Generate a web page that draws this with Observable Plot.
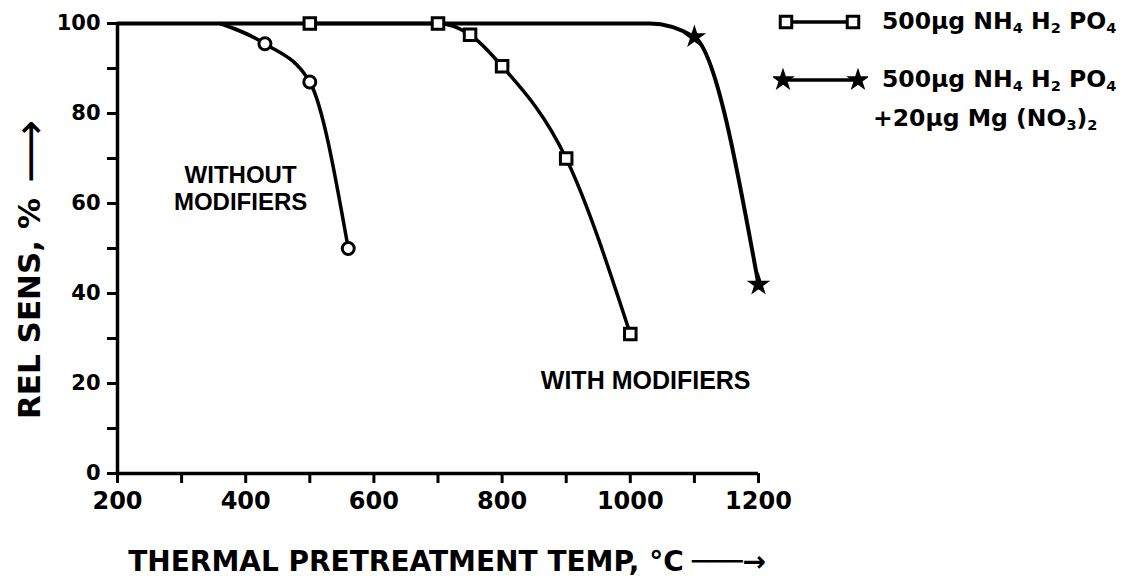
<!DOCTYPE html>
<html><head><meta charset="utf-8">
<script src="https://cdn.jsdelivr.net/npm/d3@7"></script>
<script src="https://cdn.jsdelivr.net/npm/@observablehq/plot@0.6"></script>
<style>
body{margin:0;background:#fff;}
#wrap{position:relative;width:1131px;height:576px;overflow:hidden;}
.lg{position:absolute;font-family:"DejaVu Sans",sans-serif;font-weight:bold;font-size:23.5px;white-space:nowrap;line-height:1;color:#000;}
.lg sub{font-size:0.62em;vertical-align:-0.3em;line-height:0;}
</style></head><body><div id="wrap"></div>
<script>
// ---- data ----
// Without modifiers (open circles)
const withoutTemp = [430, 500, 560];
const withoutSens = [95.5, 87, 50];
// 500 µg NH4H2PO4 (open squares)
const phosTemp = [500, 700, 750, 800, 900, 1000];
const phosSens = [100, 100, 97.5, 90.5, 70, 31];
// 500 µg NH4H2PO4 + 20 µg Mg(NO3)2 (stars)
const mgTemp = [1100, 1200];
const mgSens = [97, 42];
// unmarked points where curves leave the 100 % plateau
const withoutPlateauTemp = [360];
const mgPlateauTemp = [200, 1030];
const plateauSens = 100;

const xTicks = [200, 300, 400, 500, 600, 700, 800, 900, 1000, 1100, 1200];
const xTickLabels = [200, 400, 600, 800, 1000, 1200];
const yTicks = [0, 10, 20, 30, 40, 50, 60, 70, 80, 90, 100];
const yTickLabels = [0, 20, 40, 60, 80, 100];

const seriesNames = ["500µg NH4 H2 PO4", "500µg NH4 H2 PO4 +20µg Mg (NO3)2"];

// ---- tables ----
const zip = (xs, ys, s) => xs.map((x, i) => ({x, y: ys[i], s}));
const withoutPts = zip(withoutTemp, withoutSens, "without");
const phosPts = zip(phosTemp, phosSens, "phos");
const mgPts = zip(mgTemp, mgSens, "mg");
const withoutLine = [...withoutPlateauTemp.map(x => ({x, y: plateauSens})), ...withoutPts];
const mgLine = [...mgPlateauTemp.map(x => ({x, y: plateauSens})), ...mgPts];

const tickFont = {fontFamily: "DejaVu Sans", fontWeight: "bold"};
const annFont = {fontFamily: "Liberation Sans", fontWeight: "bold"};

const chart = Plot.plot({
  width: 1131,
  height: 576,
  marginLeft: 117,
  marginRight: 373,
  marginTop: 23,
  marginBottom: 103,
  style: {background: "#fff", color: "#000"},
  x: {domain: [200, 1200]},
  y: {domain: [0, 100]},
  marks: [
    Plot.axisX({ticks: xTicks, tickSize: 10, tickPadding: 8, strokeWidth: 3, label: null,
      tickFormat: d => xTickLabels.includes(d) ? String(d) : "", fontSize: 24, ...tickFont}),
    Plot.axisY({ticks: yTicks, tickSize: 10, tickPadding: 7, strokeWidth: 3, label: null,
      tickFormat: d => yTickLabels.includes(d) ? String(d) : "", fontSize: 21, ...tickFont}),
    Plot.ruleY([0], {strokeWidth: 3.5}),
    Plot.ruleX([200], {strokeWidth: 3.5}),
    Plot.line(mgLine, {x: "x", y: "y", curve: "monotone-x", strokeWidth: 4}),
    Plot.line(phosPts, {x: "x", y: "y", curve: "monotone-x", strokeWidth: 3.5}),
    Plot.line(withoutLine, {x: "x", y: "y", curve: "monotone-x", strokeWidth: 3.5}),
    Plot.dot(withoutPts, {x: "x", y: "y", r: 6, symbol: "circle", fill: "#fff", stroke: "#000", strokeWidth: 3}),
    Plot.dot(phosPts, {x: "x", y: "y", r: 6.5, symbol: "square", fill: "#fff", stroke: "#000", strokeWidth: 3}),
    Plot.dot(mgPts, {x: "x", y: "y", r: 5, symbol: "star", fill: "#000", stroke: "#000", strokeWidth: 2.5}),
    Plot.text(["WITHOUT\nMODIFIERS"], {x: 392, y: 63.5, fontSize: 24, lineHeight: 1.15, ...annFont}),
    Plot.text(["WITH MODIFIERS"], {x: 1024, y: 20.5, fontSize: 25, ...annFont}),
    Plot.text(["THERMAL PRETREATMENT TEMP, °C"], {frameAnchor: "bottom", textAnchor: "middle", dx: -32, dy: 97, fontSize: 28, ...tickFont}),
    Plot.text(["───→"], {frameAnchor: "bottom", textAnchor: "middle", dx: 291, dy: 97, fontSize: 28, ...tickFont}),
    Plot.text(["REL SENS, %"], {frameAnchor: "left", textAnchor: "middle", rotate: -90, dx: -87, dy: 60, fontSize: 31, ...tickFont}),
    Plot.text(["⟶"], {frameAnchor: "left", textAnchor: "middle", rotate: -90, dx: -87, dy: -97, fontSize: 44, fontFamily: "DejaVu Sans"})
  ]
});

const wrap = document.getElementById("wrap");
wrap.appendChild(chart);

// ---- legend (HTML overlay to the right of the plot) ----
function subs(s) { return s.replace(/(NH|H|PO|NO|\))(\d)/g, (m, a, b) => a + "<sub>" + b + "</sub>"); }
const starPath = d3.symbol(d3.symbolStar, Math.PI * 25)();
const sqPath = d3.symbol(d3.symbolSquare, Math.PI * 42)();

function icon(top, left, width, kind) {
  const ns = "http://www.w3.org/2000/svg";
  const svg = document.createElementNS(ns, "svg");
  svg.setAttribute("width", width + 20);
  svg.setAttribute("height", 24);
  svg.style.position = "absolute";
  svg.style.left = (left - 10) + "px";
  svg.style.top = (top - 12) + "px";
  const line = document.createElementNS(ns, "line");
  line.setAttribute("x1", 10); line.setAttribute("x2", 10 + width);
  line.setAttribute("y1", 12); line.setAttribute("y2", 12);
  line.setAttribute("stroke", "#000"); line.setAttribute("stroke-width", 3.5);
  svg.appendChild(line);
  for (const cx of [10, 10 + width]) {
    const p = document.createElementNS(ns, "path");
    p.setAttribute("d", kind === "square" ? sqPath : starPath);
    p.setAttribute("transform", `translate(${cx},12)`);
    p.setAttribute("fill", kind === "square" ? "#fff" : "#000");
    p.setAttribute("stroke", "#000");
    p.setAttribute("stroke-width", kind === "square" ? 3 : 2.5);
    svg.appendChild(p);
  }
  wrap.appendChild(svg);
}
function label(html, top, left) {
  const d = document.createElement("div");
  d.className = "lg";
  d.style.top = top + "px";
  d.style.left = left + "px";
  d.innerHTML = html;
  wrap.appendChild(d);
}
icon(22, 786, 67, "square");
icon(80, 783, 75, "star");
const [l1, l2] = seriesNames;
label(subs(l1), 10, 882);
const parts = l2.split(" +");
label(subs(parts[0]), 68, 882);
label(subs("+" + parts[1]), 107, 873);
</script>
</body></html>
